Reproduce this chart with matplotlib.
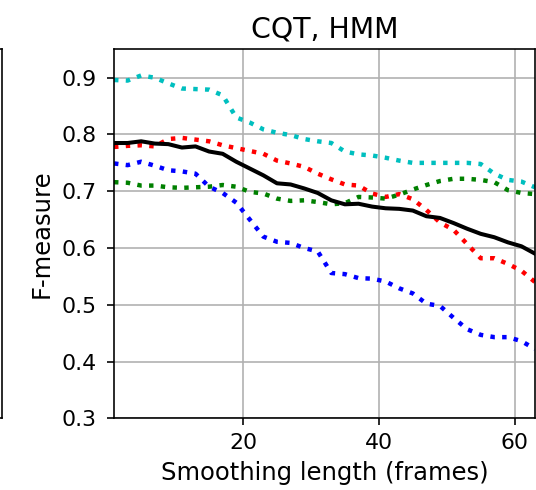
import numpy as np
import matplotlib
matplotlib.use('Agg')
import matplotlib.pyplot as plt

# smoothing lengths (frames), odd values 1..63
frames = np.arange(1, 64, 2)

# F-measure curves
f_cyan = [0.896, 0.895, 0.904, 0.900, 0.890, 0.881, 0.880, 0.879, 0.869, 0.830, 0.821,
          0.809, 0.803, 0.799, 0.792, 0.788, 0.785, 0.770, 0.765, 0.763, 0.759, 0.754,
          0.750, 0.750, 0.750, 0.750, 0.750, 0.748, 0.731, 0.720, 0.717, 0.707]
f_red = [0.778, 0.780, 0.781, 0.779, 0.792, 0.794, 0.791, 0.788, 0.781, 0.776, 0.771,
         0.766, 0.754, 0.749, 0.743, 0.731, 0.721, 0.712, 0.710, 0.696, 0.690, 0.695,
         0.686, 0.667, 0.645, 0.632, 0.607, 0.582, 0.582, 0.572, 0.560, 0.540]
f_green = [0.716, 0.715, 0.710, 0.710, 0.707, 0.706, 0.707, 0.708, 0.711, 0.708, 0.699,
           0.696, 0.687, 0.683, 0.684, 0.681, 0.677, 0.679, 0.690, 0.689, 0.687, 0.694,
           0.703, 0.711, 0.718, 0.722, 0.722, 0.720, 0.716, 0.702, 0.697, 0.695]
f_blue = [0.749, 0.746, 0.752, 0.745, 0.737, 0.735, 0.731, 0.708, 0.697, 0.680, 0.650,
          0.620, 0.611, 0.609, 0.600, 0.594, 0.556, 0.554, 0.547, 0.546, 0.541, 0.529,
          0.520, 0.502, 0.498, 0.477, 0.457, 0.447, 0.443, 0.443, 0.436, 0.422]
f_mean = [0.785, 0.785, 0.788, 0.784, 0.783, 0.777, 0.779, 0.770, 0.766, 0.752, 0.740,
          0.728, 0.714, 0.712, 0.705, 0.697, 0.684, 0.677, 0.678, 0.673, 0.670, 0.669,
          0.666, 0.656, 0.653, 0.644, 0.634, 0.625, 0.619, 0.610, 0.603, 0.590]

s = 1.46  # everything looks scaled up from matplotlib defaults
plt.rcParams.update({
    'axes.linewidth': 0.8 * s,
    'xtick.major.size': 3.5 * s, 'ytick.major.size': 3.5 * s,
    'xtick.major.width': 0.8 * s, 'ytick.major.width': 0.8 * s,
    'xtick.major.pad': 3.5 * s, 'ytick.major.pad': 7.2,
    'grid.linewidth': 0.8 * s,
})

fig = plt.figure(figsize=(5.36, 4.9), dpi=100)

# right edge of the neighbouring subplot, cut by the crop
ax0 = fig.add_axes([-0.5, 0.1463, 0.5037, 0.753])
ax0.set_xticks([])
ax0.set_yticks([])

ax = fig.add_axes([0.2127, 0.1463, 0.7855, 0.753])
ax.plot(frames, f_cyan, 'c:', lw=3.2)
ax.plot(frames, f_red, 'r:', lw=3.2)
ax.plot(frames, f_green, 'g:', lw=3.2)
ax.plot(frames, f_blue, 'b:', lw=3.2)
ax.plot(frames, f_mean, 'k-', lw=2.9)

ax.set_xlim(1, 63)
ax.set_ylim(0.3, 0.95)
ax.set_xticks([20, 40, 60])
ax.set_yticks([0.3, 0.4, 0.5, 0.6, 0.7, 0.8, 0.9])
ax.tick_params(labelsize=15.8)
ax.grid(True)
ax.set_xlabel('Smoothing length (frames)', fontsize=17.5, labelpad=4 * s)
ax.set_ylabel('F-measure', fontsize=17.5, labelpad=4 * s)
ax.set_title('CQT, HMM', fontsize=20.4, pad=6 * s)

fig.savefig('out.png', dpi=100)
